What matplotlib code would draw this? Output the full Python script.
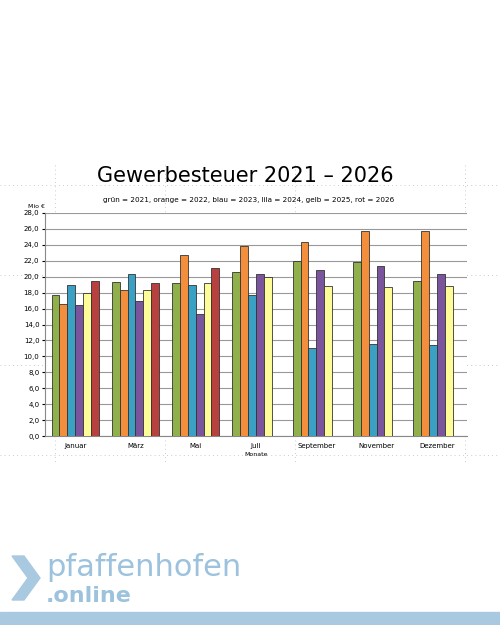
import matplotlib.pyplot as plt
import numpy as np
from matplotlib.patches import Rectangle, Polygon

months = ["Januar", "März", "Mai", "Juli", "September", "November", "Dezember"]
years = ["2021", "2022", "2023", "2024", "2025", "2026"]
values = {
    "2021": [17.7, 19.3, 19.2, 20.6, 22.0, 21.9, 19.5],
    "2022": [16.6, 18.3, 22.7, 23.8, 24.3, 25.8, 25.7],
    "2023": [19.0, 20.4, 19.0, 17.7, 11.1, 11.5, 11.4],
    "2024": [16.4, 17.0, 15.3, 20.3, 20.9, 21.3, 20.4],
    "2025": [17.9, 18.3, 19.2, 20.0, 18.8, 18.7, 18.8],
    "2026": [19.4, 19.2, 21.1, np.nan, np.nan, np.nan, np.nan],
}
colors = ["#8fb04a", "#f28e3c", "#3aa0c4", "#7a559e", "#fdfc98", "#b8403e"]

W, H = 500, 625
fig = plt.figure(figsize=(W / 100, H / 100), dpi=100)
fig.patch.set_facecolor("white")

# dotted background grid (scan artefacts)
bg = fig.add_axes([0, 0, 1, 1])
bg.set_xlim(0, W)
bg.set_ylim(H, 0)
bg.axis("off")
for yy in [185, 275, 365, 455]:
    bg.plot([0, 500], [yy, yy], ls=(0, (1, 4)), color="#bbbbbb", lw=0.6)
for xx in [55, 165, 295, 465]:
    bg.plot([xx, xx], [165, 465], ls=(0, (1, 4)), color="#bbbbbb", lw=0.6)
bg.add_patch(Rectangle((0, 612), 500, 13, color="#a9c9e0"))
bg.add_patch(Polygon([[12, 556], [24, 556], [40, 578], [24, 600], [12, 600], [28, 578]],
                     color="#a9c9e0"))
bg.text(46, 576, "pfaffenhofen", fontsize=22, color="#9cc2de", va="baseline",
        family="DejaVu Sans")
bg.text(46, 602, ".online", fontsize=16, color="#9cc2de", va="baseline",
        fontweight="bold", family="DejaVu Sans")

bg.text(245, 176, "Gewerbesteuer 2021 – 2026", fontsize=15, ha="center", va="center",
        family="DejaVu Sans")
bg.text(249, 200, "grün = 2021, orange = 2022, blau = 2023, lila = 2024, gelb = 2025, rot = 2026",
        fontsize=5.2, ha="center", va="center")
bg.text(36, 207, "Mio €", fontsize=4.5, ha="center", va="center")

ax = fig.add_axes([45 / W, 1 - 436 / H, (467 - 45) / W, (436 - 213) / H])
x = np.arange(len(months))
bw = 0.78 / 6
for i, y in enumerate(years):
    ax.bar(x - 0.39 + bw * (i + 0.5), values[y], bw, color=colors[i],
           edgecolor="#333333", linewidth=0.6, zorder=3)
ax.set_xlim(-0.5, len(months) - 0.5)
ax.set_ylim(0, 28)
ax.set_yticks(np.arange(0, 28.1, 2))
ax.set_yticklabels([f"{v:.1f}".replace(".", ",") for v in np.arange(0, 28.1, 2)], fontsize=5)
ax.yaxis.grid(True, color="#999999", lw=0.8, zorder=0)
ax.set_xticks(x)
ax.set_xticklabels(months, fontsize=5)
ax.tick_params(axis="x", length=0, pad=5)
ax.tick_params(axis="y", length=2, pad=2)
ax.set_xlabel("Monate", fontsize=4.5, labelpad=2)
for s in ["top", "right"]:
    ax.spines[s].set_visible(False)
ax.spines["left"].set_color("#888888")
ax.spines["bottom"].set_color("#888888")

fig.savefig("out.png", dpi=100)
